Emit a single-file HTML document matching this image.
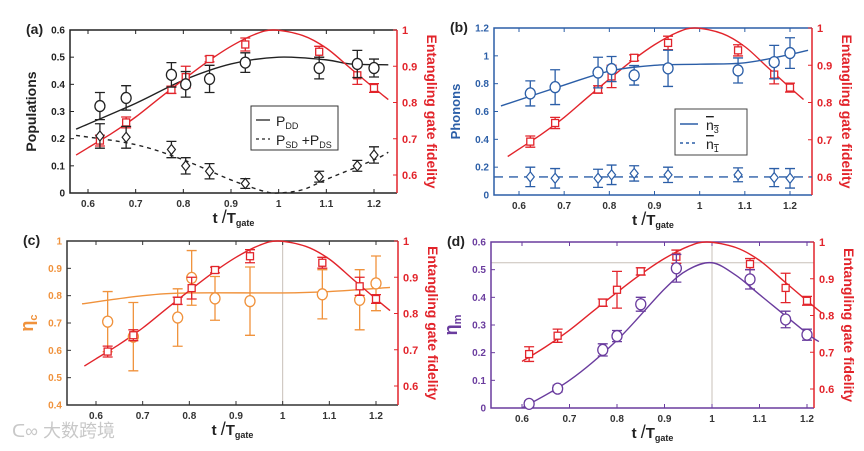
<!DOCTYPE html>
<html><head><meta charset="utf-8"><style>
body{margin:0;background:#fff;width:864px;height:446px;overflow:hidden}
svg{font-family:"Liberation Sans",Arial,sans-serif}
</style></head><body>
<svg id="fig" width="864" height="446" viewBox="0 0 864 446" xmlns="http://www.w3.org/2000/svg"></svg>
<script>
// ---------- DATA ----------
const xs = [0.625,0.68,0.775,0.805,0.855,0.93,1.085,1.165,1.2];
const fidA = [0.695,0.745,0.835,0.87,0.92,0.96,0.94,0.875,0.84];
const fidErr = [0.015,0.015,0.01,0.03,0.008,0.018,0.015,0.025,0.012];
const fidFitX = [0.575,0.6,0.65,0.7,0.75,0.8,0.85,0.9,0.95,0.99,1.05,1.1,1.15,1.2,1.23];
const fidFitY = [0.655,0.675,0.715,0.76,0.812,0.863,0.912,0.955,0.988,1.0,0.985,0.95,0.895,0.84,0.808];

const popDD = [0.32,0.35,0.435,0.40,0.42,0.48,0.46,0.475,0.46];
const popDDErr = [0.05,0.045,0.045,0.047,0.05,0.036,0.04,0.05,0.033];
const popDDFitX = [0.575,0.7,0.8,0.9,1.0,1.1,1.15,1.23];
const popDDFitY = [0.235,0.33,0.415,0.475,0.5,0.49,0.475,0.472];
const popS = [0.21,0.205,0.16,0.10,0.08,0.035,0.06,0.10,0.14];
const popSErr = [0.045,0.04,0.03,0.03,0.028,0.018,0.02,0.02,0.03];
const popSFitX = [0.575,0.7,0.8,0.9,0.97,1.0,1.05,1.1,1.2,1.23];
const popSFitY = [0.212,0.178,0.122,0.048,0.006,0.0,0.012,0.05,0.122,0.15];

const n3 = [0.73,0.775,0.88,0.905,0.86,0.91,0.895,0.955,1.02];
const n3Err = [0.09,0.125,0.11,0.09,0.07,0.13,0.09,0.12,0.11];
const n3FitX = [0.56,0.7,0.8,0.9,1.0,1.1,1.2,1.24];
const n3FitY = [0.64,0.79,0.89,0.932,0.94,0.95,1.01,1.04];
const n1 = [0.13,0.12,0.12,0.145,0.155,0.145,0.145,0.125,0.12];
const n1Err = [0.07,0.07,0.065,0.07,0.055,0.055,0.05,0.065,0.07];
const n1Level = 0.13;

const etaC = [0.705,0.65,0.72,0.865,0.79,0.78,0.805,0.785,0.845];
const etaCErr = [0.11,0.125,0.105,0.1,0.08,0.125,0.09,0.11,0.1];
const etaCFitX = [0.57,0.7,0.8,1.0,1.1,1.23];
const etaCFitY = [0.77,0.8,0.81,0.81,0.815,0.83];
const fidC = [0.695,0.74,0.835,0.87,0.92,0.958,0.94,0.875,0.84];

const xsD = [0.615,0.675,0.77,0.8,0.85,0.925,1.08,1.155,1.2];
const etaM = [0.015,0.07,0.21,0.26,0.375,0.505,0.465,0.32,0.265];
const etaMErr = [0.01,0.012,0.022,0.02,0.025,0.05,0.035,0.03,0.02];
const etaMFitX = [0.6,0.7,0.8,0.9,0.95,1.0,1.05,1.1,1.2,1.225];
const etaMFitY = [0.0,0.1,0.245,0.43,0.5,0.525,0.48,0.41,0.27,0.24];
const fidD = [0.695,0.745,0.835,0.87,0.92,0.96,0.94,0.875,0.84];
const fidDErr = [0.02,0.018,0.01,0.05,0.01,0.018,0.015,0.04,0.012];
const xTicks = [0.6,0.7,0.8,0.9,1,1.1,1.2];
const fidTicks = [0.6,0.7,0.8,0.9,1];

// ---------- HELPERS ----------
const NS="http://www.w3.org/2000/svg";
const svg=document.getElementById('fig');
function el(tag,attrs,parent,text){const e=document.createElementNS(NS,tag);for(const k in attrs)e.setAttribute(k,attrs[k]);if(text!==undefined)e.textContent=text;(parent||svg).appendChild(e);return e;}
function lin(v1,p1,v2,p2){return v=>p1+(v-v1)*(p2-p1)/(v2-v1);}
function smooth(px,py){let d='M'+px[0]+','+py[0];for(let i=0;i<px.length-1;i++){const x0=px[i-1]??px[i],y0=py[i-1]??py[i],x3=px[i+2]??px[i+1],y3=py[i+2]??py[i+1];
 const c1x=px[i]+(px[i+1]-x0)/6,c1y=py[i]+(py[i+1]-y0)/6,c2x=px[i+1]-(x3-px[i])/6,c2y=py[i+1]-(y3-py[i])/6;d+=` C${c1x},${c1y} ${c2x},${c2y} ${px[i+1]},${py[i+1]}`;}return d;}
function fmt(v){return (Math.round(v*10)/10).toString();}

function panel(P){
 const g=el('g',{});
 
 
 const [L,T,R,B]=P.box;
 P.sx=lin(0.6,P.x06,1.2,P.x12);
 P.sy=lin(P.yl[0],B,P.yl[1],T);
 P.sr=lin(0.6,P.r06,1,T);
 if(P.vline){const x=P.sx(1);el('line',{x1:x,y1:T,x2:x,y2:B,stroke:'#c8c0b8','stroke-width':1},g);}
 if(P.hline!==undefined){const y=P.sy(P.hline);el('line',{x1:L,y1:y,x2:R,y2:y,stroke:'#c8c0b8','stroke-width':1},g);}
 // axes
 el('path',{d:`M${R},${T} L${L},${T} L${L},${B} L${R},${B}`,fill:'none',stroke:P.c,'stroke-width':1.5},g);
 el('line',{x1:R,y1:T,x2:R,y2:B,stroke:'#e2242b','stroke-width':1.5},g);
 const xt=el('g',{},g);
 xTicks.forEach(v=>{const x=P.sx(v);el('line',{x1:x,y1:B,x2:x,y2:B-4,stroke:P.c},xt);el('line',{x1:x,y1:T,x2:x,y2:T+4,stroke:P.c},xt);
  el('text',{x:x,y:B+14,'text-anchor':'middle','font-size':10,'font-weight':'bold',fill:P.c==='#222'?'#333':'#333'},xt,fmt(v));});
 const yt=el('g',{},g);
 P.ylt.forEach(v=>{const y=P.sy(v);el('line',{x1:L,y1:y,x2:L+4,y2:y,stroke:P.c},yt);
  el('text',{x:L-5,y:y+3.5,'text-anchor':'end','font-size':10,'font-weight':'bold',fill:P.tc},yt,fmt(v));});
 const rt=el('g',{},g);
 fidTicks.forEach(v=>{const y=P.sr(v);el('line',{x1:R,y1:y,x2:R-4,y2:y,stroke:'#e2242b'},rt);
  el('text',{x:R+5,y:y+4,'font-size':11,'font-weight':'bold',fill:'#e2242b'},rt,fmt(v));});
 // labels
 const pl=el('text',{x:L-44,y:T+4,'font-size':14,'font-weight':'bold',fill:'#222'},g,P.tag);
 
 const rl=el('text',{x:R+30,y:(T+B)/2,'font-size':14,'font-weight':'bold',fill:'#e2242b','text-anchor':'middle',transform:`rotate(90 ${R+30} ${(T+B)/2})`},g,'Entangling gate fidelity');
 
 const xl=el('text',{x:(L+R)/2,y:B+30,'font-size':15,'font-weight':'bold',fill:'#222','text-anchor':'middle'},g);
 
 el('tspan',{},xl,'t ');el('tspan',{'font-weight':'normal','font-size':18},xl,'/');el('tspan',{},xl,'T');el('tspan',{'font-size':9,dy:3},xl,'gate');
 const yl=el('text',{x:L-34,y:(T+B)/2,'font-size':P.ysize||14,'font-weight':'bold',fill:P.tc,'text-anchor':'middle',transform:`rotate(-90 ${L-34} ${(T+B)/2})`},g);
 
 if(P.ysub){el('tspan',{},yl,P.ytitle);el('tspan',{'font-size':11,dy:4},yl,P.ysub);}else yl.textContent=P.ytitle;
 return g;
}
function curve(g,P,X,Y,scale,color,dash,name){const p=el('path',{d:smooth(X.map(P.sx),Y.map(scale)),fill:'none',stroke:color,'stroke-width':1.4,'stroke-dasharray':dash||'none'},g);
 }
function points(g,P,X,Y,E,scale,color,shape,name){X.forEach((xv,i)=>{const x=P.sx(xv),y=scale(Y[i]),yt=scale(Y[i]+E[i]),yb=scale(Y[i]-E[i]);
 const m=el('g',{},g);
 el('path',{d:`M${x},${yt}V${yb}M${x-5},${yt}H${x+5}M${x-5},${yb}H${x+5}`,stroke:color,'stroke-width':1.3,fill:'none'},m);
 if(shape==='o')el('ellipse',{cx:x,cy:y,rx:5,ry:5.5,fill:'#fff',stroke:color,'stroke-width':1.3},m);
 else if(shape==='s')el('rect',{x:x-3.5,y:y-3.5,width:7,height:7,fill:'#fff',stroke:color,'stroke-width':1.3},m);
 else el('path',{d:`M${x},${y-5}L${x+4},${y}L${x},${y+5}L${x-4},${y}Z`,fill:'#fff',stroke:color,'stroke-width':1.2},m);});}

const RED='#e2242b';
// (a)
const A={name:'panel-a',tag:'(a)',box:[70,30,397,193],x06:88,x12:374,yl:[0,0.6],ylt:[0,0.1,0.2,0.3,0.4,0.5,0.6],r06:175,c:'#222',tc:'#222',ytitle:'Populations'};
let g=panel(A);
curve(g,A,popSFitX,popSFitY,A.sy,'#222','4,4','fit-psd-pds');
curve(g,A,popDDFitX,popDDFitY,A.sy,'#222',null,'fit-pdd');
curve(g,A,fidFitX,fidFitY,A.sr,RED,null,'fit-fidelity');
points(g,A,xs,fidA,fidErr,A.sr,RED,'s','fidelity-point');
points(g,A,xs,popDD,popDDErr,A.sy,'#222','o','pdd-point');
points(g,A,xs,popS,popSErr,A.sy,'#222','d','psd-point');
let lg=el('g',{},g);
el('rect',{x:251,y:106,width:87,height:44,fill:'#fff',stroke:'#333'},lg);
el('line',{x1:256,y1:120,x2:270,y2:120,stroke:'#222','stroke-width':1.3},lg);
el('line',{x1:256,y1:139,x2:270,y2:139,stroke:'#222','stroke-width':1.3,'stroke-dasharray':'3,3'},lg);
let t=el('text',{x:276,y:126,'font-size':14,fill:'#222'},lg);el('tspan',{},t,'P');el('tspan',{'font-size':9,dy:3},t,'DD');
t=el('text',{x:276,y:145,'font-size':14,fill:'#222'},lg);el('tspan',{},t,'P');el('tspan',{'font-size':9,dy:3},t,'SD');el('tspan',{dy:-3},t,' +P');el('tspan',{'font-size':9,dy:3},t,'DS');
// (b)
const BLU='#2b5ea7';
const Bp={name:'panel-b',tag:'(b)',box:[494,28,812,195],x06:519,x12:790,yl:[0,1.2],ylt:[0,0.2,0.4,0.6,0.8,1,1.2],r06:177,c:BLU,tc:BLU,ytitle:'Phonons',ysize:13};
g=panel(Bp);
curve(g,Bp,fidFitX,fidFitY,Bp.sr,RED,null,'fit-fidelity');
curve(g,Bp,n3FitX,n3FitY,Bp.sy,BLU,null,'fit-n3');
const ly=Bp.sy(n1Level);let dl=el('line',{x1:494,y1:ly,x2:812,y2:ly,stroke:BLU,'stroke-width':1.4,'stroke-dasharray':'9,6'},g);

points(g,Bp,xs,fidA,fidErr,Bp.sr,RED,'s','fidelity-point');
points(g,Bp,xs,n3,n3Err,Bp.sy,BLU,'o','n3-point');
points(g,Bp,xs,n1,n1Err,Bp.sy,BLU,'d','n1-point');
lg=el('g',{},g);
el('rect',{x:675,y:109,width:72,height:46,fill:'#fff',stroke:'#444'},lg);
el('line',{x1:680,y1:124,x2:698,y2:124,stroke:BLU,'stroke-width':1.5},lg);
el('line',{x1:680,y1:143,x2:698,y2:143,stroke:BLU,'stroke-width':1.5,'stroke-dasharray':'3,3'},lg);
t=el('text',{x:706,y:130,'font-size':14,fill:'#222','text-decoration':'overline'},lg);el('tspan',{},t,'n');el('tspan',{'font-size':9,dy:3},t,'3');
t=el('text',{x:706,y:149,'font-size':14,fill:'#222','text-decoration':'overline'},lg);el('tspan',{},t,'n');el('tspan',{'font-size':9,dy:3},t,'1');
// (c)
const OR='#f0923c';
const C={name:'panel-c',tag:'(c)',box:[67,241,398,405],x06:96,x12:376,yl:[0.4,1],ylt:[0.4,0.5,0.6,0.7,0.8,0.9,1],r06:386,c:'#333',tc:OR,ytitle:'η',ysub:'c',ysize:18,vline:true};
g=panel(C);
curve(g,C,etaCFitX,etaCFitY,C.sy,OR,null,'fit-eta-c');
curve(g,C,fidFitX,fidFitY,C.sr,RED,null,'fit-fidelity');
points(g,C,xs,etaC,etaCErr,C.sy,OR,'o','eta-c-point');
points(g,C,xs,fidC,fidErr,C.sr,RED,'s','fidelity-point');
// (d)
const PU='#6a3c9e';
const D={name:'panel-d',tag:'(d)',box:[491,242,814,408],x06:522,x12:807,yl:[0,0.6],ylt:[0,0.1,0.2,0.3,0.4,0.5,0.6],r06:389,c:PU,tc:PU,ytitle:'η',ysub:'m',ysize:18,vline:true,hline:0.525};
g=panel(D);
curve(g,D,fidFitX.slice(1),fidFitY.slice(1),D.sr,RED,null,'fit-fidelity');
curve(g,D,etaMFitX,etaMFitY,D.sy,PU,null,'fit-eta-m');
points(g,D,xsD,fidD,fidDErr,D.sr,RED,'s','fidelity-point');
points(g,D,xsD,etaM,etaMErr,D.sy,PU,'o','eta-m-point');
// watermark
const wm=el('text',{x:12,y:437,'font-size':18,fill:'#c8c8c8','font-family':'"Liberation Sans","Noto Sans CJK SC",sans-serif'},svg,'ᑕ∞ 大数跨境');

</script>
</body></html>
